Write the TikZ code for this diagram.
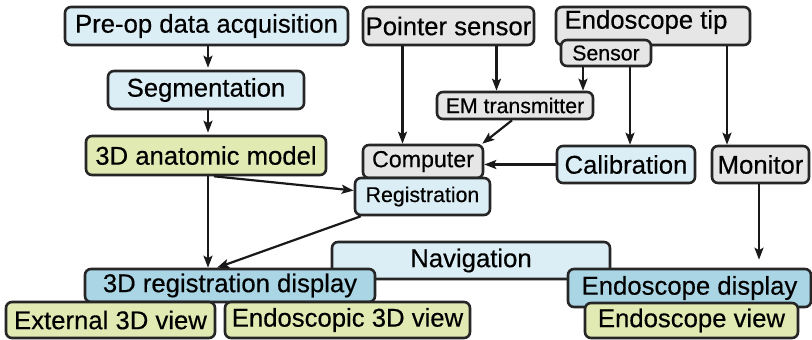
\documentclass[tikz,border=0pt]{standalone}
\usepackage{fontspec}
\setmainfont[FakeBold=0.4]{Liberation Sans}
\usepackage{tikz}
\usetikzlibrary{arrows.meta,calc}
\definecolor{paleblue}{RGB}{220,238,245}
\definecolor{dispblue}{RGB}{170,213,229}
\definecolor{modelgreen}{RGB}{226,234,180}
\definecolor{boxgrey}{RGB}{230,230,230}
\tikzset{>={Stealth[length=12pt,width=9pt,inset=2.5pt]}}
\tikzset{
  box/.style={draw=black!85, line width=2.6pt, rounded corners=6pt, inner sep=0pt,
    font=\fontsize{25.7}{29}\selectfont},
  bluebox/.style={box, fill=paleblue},
  dispbox/.style={box, fill=dispblue},
  greenbox/.style={box, fill=modelgreen},
  greybox/.style={box, fill=boxgrey},
  small/.style={font=\fontsize{21.3}{25}\selectfont},
  link/.style={->, line width=2.2pt, draw=black!90},
}

\begin{document}
\begin{tikzpicture}[x=1pt, y=-1pt]
  \useasboundingbox (0,0) rectangle (812,340);
  % left column
  \node[bluebox, minimum width=283, minimum height=38] (pre) at (206.5,26) {Pre-op data acquisition};
  \node[bluebox, minimum width=196, minimum height=38] (seg) at (206,90) {Segmentation};
  \node[greenbox, minimum width=240, minimum height=39] (model) at (206,155.5) {3D anatomic model};
  % tracking hardware
  \node[greybox, minimum width=171, minimum height=38] (pointer) at (448.5,26) {Pointer sensor};
  \node[greybox, minimum width=194, minimum height=38] (tip) at (653,26) {};
  \node (tiptext) at ($(tip.center)+(-7,-4)$) {\fontsize{25.7}{29}\selectfont Endoscope tip};
  \node[greybox, small, minimum width=90, minimum height=26] (sensor) at (606,53) {Sensor};
  \node[greybox, small, minimum width=156, minimum height=27] (em) at (515,105.5) {EM transmitter};
  \node[greybox, minimum width=120, minimum height=33, font=\fontsize{23.2}{27}\selectfont] (computer) at (423,161.5) {Computer};
  \node[bluebox, small, minimum width=135, minimum height=37] (reg) at (422.5,196.5) {Registration};
  \node[bluebox, minimum width=138, minimum height=37] (calib) at (626,164.5) {Calibration};
  \node[greybox, minimum width=97, minimum height=37] (monitor) at (760.5,164.5) {Monitor};
  % displays
  \node[bluebox, minimum width=278, minimum height=37] (nav) at (471,260.5) {Navigation};
  \node[dispbox, minimum width=290, minimum height=33] (regdisp) at (230,285.5) {3D registration display};
  \node[greenbox, minimum width=209, minimum height=36] (ext) at (110.5,320) {External 3D view};
  \node[greenbox, minimum width=245, minimum height=36] (endo3d) at (347.5,320) {Endoscopic 3D view};
  \node[dispbox, minimum width=243, minimum height=38] (endodisp) at (689.5,288) {Endoscope display};
  \node[greenbox, minimum width=213, minimum height=35] (endoview) at (691.5,320.5) {Endoscope view};

  % connectors
  \draw[link, shorten >=2pt] ([xshift=1.5]pre.south) -- ([xshift=2]seg.north);
  \draw[link, shorten >=2pt] ([xshift=2]seg.south) -- ([xshift=2]model.south |- model.north);
  \draw[link] ([xshift=2]model.south) -- ([xshift=2]model.south |- regdisp.north);
  \draw[link] ([xshift=8]model.south) -- ([yshift=6]reg.west);
  \draw[link] ([xshift=7]reg.south west) -- ([xshift=-13]regdisp.north);
  \draw[link] ([xshift=-46]pointer.south) -- ([xshift=-46]pointer.south |- computer.north);
  \draw[link] ([xshift=48]pointer.south) -- ([xshift=48]pointer.south |- em.north);
  \draw[link] ([xshift=-23]sensor.south) -- ([xshift=-23]sensor.south |- em.north);
  \draw[link] ([xshift=24]sensor.south) -- ([xshift=24]sensor.south |- calib.north);
  \draw[link] ([xshift=74]tip.south) -- ([xshift=74]tip.south |- monitor.north);
  \draw[link] ([xshift=-3]em.south) -- ([xshift=-2]computer.north east);
  \draw[link] (calib.west) -- (calib.west -| computer.east);
  \draw[link, shorten >=8pt] ([xshift=-1.5]monitor.south) -- ([xshift=-1.5]monitor.south |- endodisp.north);
\end{tikzpicture}
\end{document}
